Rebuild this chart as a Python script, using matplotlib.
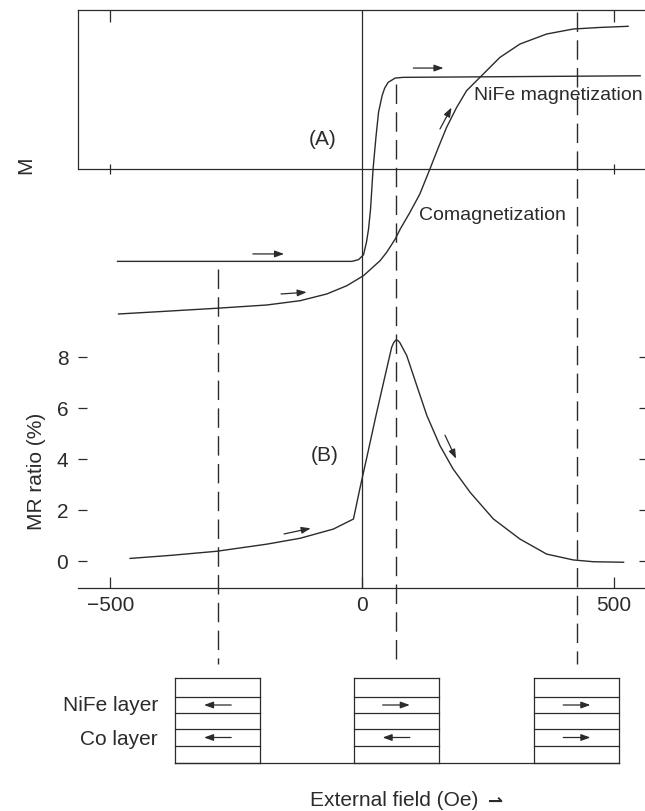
import matplotlib
matplotlib.use("Agg")
import matplotlib.pyplot as plt

plt.rcParams["font.family"] = ["Liberation Sans", "DejaVu Sans"]
plt.rcParams["axes.unicode_minus"] = True

INK = "#2b2b2b"

# ─────────────────────────────────────────────
#  Values
# ─────────────────────────────────────────────
# (A) magnetization curves, M in units of the Co saturation value
field_nife = [-486, -300, -100, -20, -7, 3, 9, 13, 17, 22, 28, 33, 40, 45, 52, 66, 82, 300, 553]
m_nife = [-0.646, -0.646, -0.646, -0.646, -0.634, -0.60, -0.51, -0.42, -0.28, 0.0,
          0.233, 0.40, 0.513, 0.565, 0.606, 0.636, 0.641, 0.646, 0.652]

field_co = [-484, -400, -289, -189, -123, -70, -30, 3, 36, 49, 66, 76, 95, 115, 135,
            152, 168, 188, 208, 241, 274, 314, 367, 420, 473, 529]
m_co = [-1.014, -0.997, -0.974, -0.951, -0.921, -0.874, -0.816, -0.746, -0.641, -0.583,
        -0.49, -0.42, -0.305, -0.175, 0.0, 0.152, 0.29, 0.43, 0.548, 0.664, 0.78,
        0.874, 0.944, 0.979, 0.99, 0.998]

# (B) magnetoresistance
field_mr = [-461, -380, -289, -189, -123, -57, -17, -4, 9, 29, 49, 59, 63, 67, 71, 75,
            89, 109, 129, 155, 181, 215, 261, 314, 367, 420, 460, 520]
mr_ratio = [0.09, 0.21, 0.37, 0.65, 0.88, 1.24, 1.635, 2.85, 4.0, 5.8, 7.52, 8.37,
            8.55, 8.65, 8.64, 8.56, 8.04, 6.86, 5.69, 4.51, 3.6, 2.68, 1.64, 0.85,
            0.26, 0.03, -0.04, -0.06]

# layer states at the three marked fields (+1 = right, -1 = left)
state_fields = [-287, 68, 427]
nife_dir = [-1, 1, 1]
co_dir = [-1, -1, 1]

mr_ticks = [0, 2, 4, 6, 8]
field_ticks = [-500, 0, 500]
field_labels = ["\u2212500", "0", "500"]

# ─────────────────────────────────────────────
#  Layout (pixels of a 645 x 812 canvas)
# ─────────────────────────────────────────────
W, H = 645, 812
XLIM = (-564.6, 562.6)


def rect(left, top, right, bottom):
    return [left / W, 1 - bottom / H, (right - left) / W, (bottom - top) / H]


def arrow(ax, x0, y0, x1, y1):
    ax.annotate("", xy=(x1, y1), xytext=(x0, y0),
                arrowprops=dict(arrowstyle="-|>,head_length=0.55,head_width=0.2",
                                color=INK, lw=0.9, shrinkA=0, shrinkB=0,
                                mutation_scale=10))


fig = plt.figure(figsize=(W / 100, H / 100), dpi=100)

# ---------- panel A ----------
ax_a = fig.add_axes(rect(78, 11, 645, 330))
ax_a.set_xlim(XLIM)
ax_a.set_ylim(-1.119, 1.112)
for s in ["bottom", "right"]:
    ax_a.spines[s].set_visible(False)
for s in ["top", "left"]:
    ax_a.spines[s].set_color(INK)
    ax_a.spines[s].set_linewidth(0.9)
ax_a.spines["left"].set_bounds(0, 1.112)
ax_a.xaxis.tick_top()
ax_a.set_xticks([-500, 500])
ax_a.tick_params(axis="x", direction="in", length=8.5, width=0.9, color=INK,
                 labeltop=False, labelbottom=False)
ax_a.set_yticks([])
ax_a.axhline(0, color=INK, lw=0.9)
ax_a.axvline(0, color=INK, lw=0.9)
ax_a.plot([-500, 500], [0, 0], ls="none", marker="|", ms=7, mew=0.9, color=INK)

ax_a.plot(field_nife, m_nife, color=INK, lw=1.0)
ax_a.plot(field_co, m_co, color=INK, lw=1.0)

arrow(ax_a, 102, 0.706, 162, 0.706)
arrow(ax_a, -217, -0.594, -155, -0.594)
arrow(ax_a, -161, -0.874, -110, -0.862)
arrow(ax_a, 155, 0.28, 178, 0.43)

ax_a.text(-78, 0.21, "(A)", fontsize=15, color=INK, ha="center", va="center")
ax_a.text(391, 0.524, "NiFe magnetization", fontsize=14, color=INK, ha="center", va="center")
ax_a.text(260, -0.315, "Comagnetization", fontsize=14, color=INK, ha="center", va="center")

# ---------- panel B ----------
ax_b = fig.add_axes(rect(78, 330, 645, 589))
ax_b.patch.set_visible(False)
ax_b.set_xlim(XLIM)
ax_b.set_ylim(-1.07, 9.086)
for s in ["top", "left", "right"]:
    ax_b.spines[s].set_visible(False)
ax_b.spines["bottom"].set_color(INK)
ax_b.spines["bottom"].set_linewidth(0.9)
ax_b.set_xticks(field_ticks, field_labels)
ax_b.set_yticks(mr_ticks)
ax_b.tick_params(axis="x", direction="in", length=8, width=0.9, color=INK,
                 pad=5, labelsize=15, labelcolor=INK)
ax_b.tick_params(axis="y", direction="in", length=6.5, width=0.9, color=INK,
                 pad=7, labelsize=15, labelcolor=INK)
ax_r = ax_b.twinx()
ax_r.set_ylim(ax_b.get_ylim())
for s in ax_r.spines.values():
    s.set_visible(False)
ax_r.set_yticks(mr_ticks)
ax_r.tick_params(axis="y", direction="in", length=4, width=0.9, color=INK, labelright=False)
ax_b.axvline(0, color=INK, lw=0.9)

ax_b.plot(field_mr, mr_ratio, color=INK, lw=1.0)
arrow(ax_b, -155, 1.05, -102, 1.27)
arrow(ax_b, 165, 4.92, 187, 4.0)
ax_b.text(-74, 4.18, "(B)", fontsize=15, color=INK, ha="center", va="center")

fig.text(26 / W, 1 - 165 / H, "M", fontsize=15, color=INK, rotation=90,
         ha="center", va="center")
fig.text(37 / W, 1 - 471 / H, "MR ratio (%)", fontsize=15, color=INK, rotation=90,
         ha="center", va="center")

# ---------- overlay: guide lines and layer sketches ----------
ax_o = fig.add_axes(rect(78, 0, 645, 812))
ax_o.set_xlim(XLIM)
ax_o.set_ylim(H, 0)
ax_o.axis("off")

guide_top = [270, 85, 13]
for x, top in zip(state_fields, guide_top):
    ax_o.plot([x, x], [top, 665], color=INK, lw=1.0, ls=(0, (14, 6)))

row_edges = [679, 698, 714, 730, 747, 764]
half_w = 84.5
for x, dn, dc in zip(state_fields, nife_dir, co_dir):
    x0, x1 = x - half_w, x + half_w
    ax_o.plot([x0, x0], [row_edges[0], row_edges[-1]], color=INK, lw=0.9)
    ax_o.plot([x1, x1], [row_edges[0], row_edges[-1]], color=INK, lw=0.9)
    for y in row_edges:
        ax_o.plot([x0, x1], [y, y], color=INK, lw=0.9)
    yn = (row_edges[1] + row_edges[2]) / 2
    yc = (row_edges[3] + row_edges[4]) / 2
    arrow(ax_o, x - 27 * dn, yn, x + 27 * dn, yn)
    arrow(ax_o, x - 27 * dc, yc, x + 27 * dc, yc)
ax_o.plot([state_fields[0] - half_w, state_fields[-1] + half_w], [row_edges[-1]] * 2,
          color=INK, lw=0.9)

ax_o.text(-406, 706, "NiFe layer", fontsize=15, color=INK, ha="right", va="center")
ax_o.text(-406, 740, "Co layer", fontsize=15, color=INK, ha="right", va="center")
ax_o.text(64, 801, "External field (Oe)", fontsize=15, color=INK, ha="center", va="center")
ax_o.text(266, 802, "\u21c0", fontsize=13, color=INK, ha="center", va="center",
          family=["DejaVu Sans"], fontweight="bold")

fig.savefig("out.png", dpi=100)
